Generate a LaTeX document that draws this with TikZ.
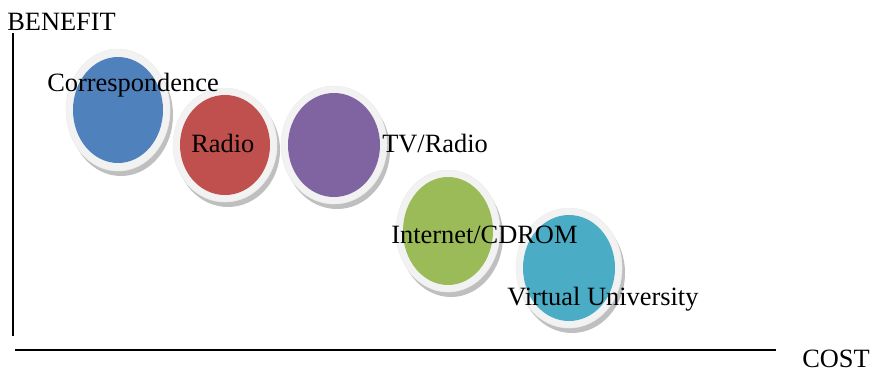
\documentclass[tikz,border=0pt]{standalone}
\usepackage{fontspec}
\setmainfont{Liberation Serif}
\usetikzlibrary{shapes.geometric}
\definecolor{cblue}{HTML}{4F81BD}
\definecolor{cred}{HTML}{C0504D}
\definecolor{cpurple}{HTML}{8064A2}
\definecolor{cgreen}{HTML}{9BBB59}
\definecolor{ccyan}{HTML}{4BACC6}
\tikzset{
  shad/.style={ellipse, inner sep=0pt, fill=black, opacity=0.25, draw=none},
  ring/.style={ellipse, inner sep=0pt, fill=black!5, draw=black!7, line width=0.4pt},
  core/.style={ellipse, inner sep=0pt, draw=none},
  lab/.style={font=\fontsize{19.8}{22}\selectfont, inner sep=0pt, anchor=base west},
  axis/.style={line width=1.1pt, black}
}
\begin{document}
\begin{tikzpicture}[x=0.75pt,y=-0.75pt]
\useasboundingbox (0,0) rectangle (871,372);
% axes
\coordinate (ytop) at (13,33);
\coordinate (ybot) at (13,336);
\coordinate (xl) at (15,350);
\coordinate (xr) at (776,350);
\draw[axis] (ytop) -- (ybot);
\draw[axis] (xl) -- (xr);
% blue
\node[shad, minimum width=78pt, minimum height=91.5pt] (bs) at (121,115) {};
\node[ring, minimum width=78pt, minimum height=91.5pt] (br) at (118,110) {};
\node[core, fill=cblue, minimum width=67.5pt, minimum height=79.5pt] (b) at (118,110) {};
% red
\node[shad, minimum width=78pt, minimum height=85.5pt] (rs) at (228,150) {};
\node[ring, minimum width=78pt, minimum height=85.5pt] (rr) at (225,145) {};
\node[core, fill=cred, minimum width=67.5pt, minimum height=75pt] (r) at (225,145) {};
% purple
\node[shad, minimum width=79.5pt, minimum height=88.5pt] (ps) at (337,150) {};
\node[ring, minimum width=79.5pt, minimum height=88.5pt] (pr) at (334,145) {};
\node[core, fill=cpurple, minimum width=69pt, minimum height=78pt] (p) at (334,145) {};
% green
\node[shad, minimum width=78pt, minimum height=91.5pt] (gs) at (451,236) {};
\node[ring, minimum width=78pt, minimum height=91.5pt] (gr) at (448,231) {};
\node[core, fill=cgreen, minimum width=67.5pt, minimum height=81pt] (g) at (448,231) {};
% cyan
\node[shad, minimum width=79.5pt, minimum height=90pt] (cs) at (572,273) {};
\node[ring, minimum width=79.5pt, minimum height=90pt] (cr) at (569,268) {};
\node[core, fill=ccyan, minimum width=69pt, minimum height=79.5pt] (c) at (569,268) {};
% labels
\node[lab] (lbenefit) at (7,30) {BENEFIT};
\node[lab] (lcorr) at (47,91) {Correspondence};
\node[lab] (lradio) at (191,152) {Radio};
\node[lab] (ltv) at (382,152) {TV/Radio};
\node[lab] (linet) at (391,243) {Internet/CDROM};
\node[lab] (lvu) at (507,305) {Virtual University};
\node[lab] (lcost) at (802,367) {COST};
\end{tikzpicture}
\end{document}
